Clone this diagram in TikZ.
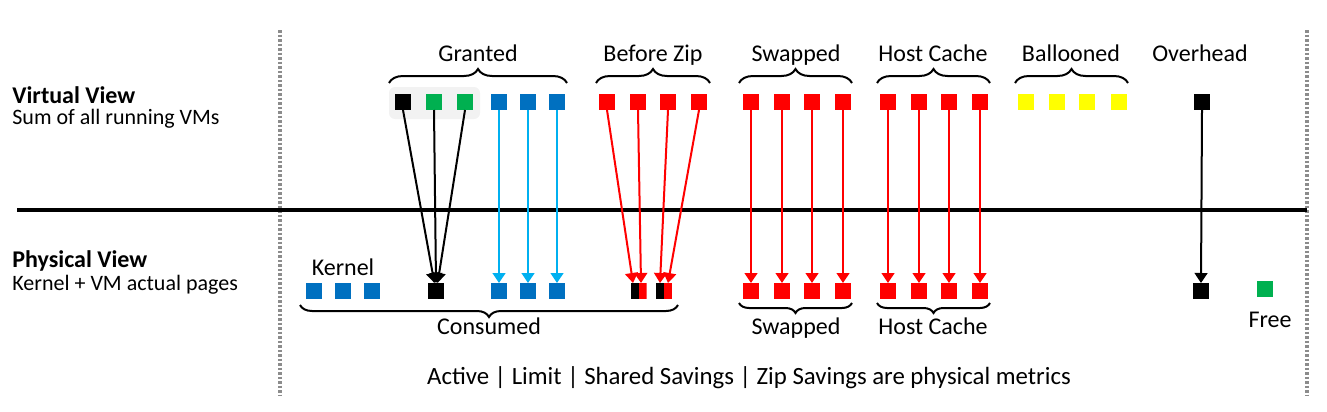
\documentclass[tikz,border=0pt]{standalone}
\usepackage{fontspec}
\setmainfont{Carlito}
\usetikzlibrary{arrows.meta,decorations.pathreplacing}
\definecolor{pagered}{RGB}{255,0,0}
\definecolor{pageblue}{RGB}{0,112,192}
\definecolor{arrowblue}{RGB}{0,176,240}
\definecolor{pagegreen}{RGB}{0,176,80}
\definecolor{pageyellow}{RGB}{255,255,0}
\definecolor{boxgray}{RGB}{242,242,242}
\definecolor{dotgray}{RGB}{140,140,140}

\tikzset{
  pg/.style={minimum size=8pt, inner sep=0pt, outer sep=0pt, fill=#1},
  splitpg/.style={minimum size=8pt, inner sep=0pt, outer sep=0pt,
    path picture={
      \fill[black] (path picture bounding box.south west) rectangle (path picture bounding box.north);
      \fill[pagered] (path picture bounding box.south) rectangle (path picture bounding box.north east);
    }},
  lbl/.style={font=\fontsize{12}{14}\selectfont, inner sep=0pt, anchor=base},
  arr/.style={line width=1pt, -{Triangle[width=6.4pt,length=5pt]}},
  brc/.style={decorate, decoration={brace, amplitude=#1}, line width=1pt},
  dotline/.style={dotgray, line width=1.6pt, dash pattern=on 1.25pt off 1pt}
}

\begin{document}
\begin{tikzpicture}[x=0.5pt, y=-0.5pt]
  \useasboundingbox (0,0) rectangle (1327,412);

  % Separators
  \draw[dotline] (280,30) -- (280,396);
  \draw[dotline] (1307,30) -- (1307,396);
  \draw[line width=2pt] (17,210) -- (1307,210);

  % View titles
  \node[font=\fontsize{12}{14}\selectfont\bfseries, inner sep=0pt, anchor=base west] (vv) at (12,103) {Virtual View};
  \node[font=\fontsize{11}{13}\selectfont, inner sep=0pt, anchor=base west] (vvsub) at (12,124) {Sum of all running VMs};
  \node[font=\fontsize{12}{14}\selectfont\bfseries, inner sep=0pt, anchor=base west] (pv) at (12,267) {Physical View};
  \node[font=\fontsize{11}{13}\selectfont, inner sep=0pt, anchor=base west] (pvsub) at (12,290) {Kernel + VM actual pages};

  % Virtual pages
  \fill[boxgray, rounded corners=3pt] (389,87) rectangle (480,119);
  \node[pg=black] (gk) at (403,102) {};
  \node[pg=pagegreen] (gg1) at (434,102) {};
  \node[pg=pagegreen] (gg2) at (465,102) {};
  \foreach \x [count=\i] in {499,528,557}
    \node[pg=pageblue] (gb\i) at (\x,102) {};
  \foreach \x [count=\i] in {607,638,668,699}
    \node[pg=pagered] (bz\i) at (\x,102) {};
  \foreach \x [count=\i] in {751,782,812,843}
    \node[pg=pagered] (sw\i) at (\x,102) {};
  \foreach \x [count=\i] in {888,919,949,980}
    \node[pg=pagered] (hc\i) at (\x,102) {};
  \foreach \x [count=\i] in {1026,1057,1087,1119}
    \node[pg=pageyellow] (bl\i) at (\x,102) {};
  \node[pg=black] (oh) at (1202,102) {};

  % Top braces and labels
  \draw[brc=7pt] (389,83) -- (567,83);
  \draw[brc=7pt] (596,83) -- (710,83);
  \draw[brc=7pt] (739,83) -- (852,83);
  \draw[brc=7pt] (877,83) -- (990,83);
  \draw[brc=7pt] (1015,83) -- (1128,83);
  \node[lbl] (lgranted) at (478,61) {Granted};
  \node[lbl] (lbefore) at (653,61) {Before Zip};
  \node[lbl] (lswap) at (796,61) {Swapped};
  \node[lbl] (lcache) at (933,61) {Host Cache};
  \node[lbl] (lballoon) at (1071,61) {Ballooned};
  \node[lbl] (loverhead) at (1200,61) {Overhead};

  % Physical pages
  \foreach \x [count=\i] in {314,343,372}
    \node[pg=pageblue] (k\i) at (\x,291) {};
  \node[pg=black] (cons) at (436,291) {};
  \foreach \x [count=\i] in {499,528,557}
    \node[pg=pageblue] (pb\i) at (\x,291) {};
  \node[splitpg] (sp1) at (638.5,291) {};
  \node[splitpg] (sp2) at (664,291) {};
  \foreach \x [count=\i] in {751,782,812,843}
    \node[pg=pagered] (psw\i) at (\x,291) {};
  \foreach \x [count=\i] in {888,919,949,980}
    \node[pg=pagered] (phc\i) at (\x,291) {};
  \node[pg=black] (poh) at (1201,291) {};
  \node[pg=pagegreen] (free) at (1265,289) {};

  % Bottom braces and labels
  \draw[brc=6pt] (678,305) -- (300,305);
  \draw[brc=5pt] (852,303) -- (739,303);
  \draw[brc=5pt] (990,303) -- (877,303);
  \node[lbl] (lkernel) at (343,275) {Kernel};
  \node[lbl] (lconsumed) at (489,334) {Consumed};
  \node[lbl] (lpswap) at (796,334) {Swapped};
  \node[lbl] (lpcache) at (933,334) {Host Cache};
  \node[lbl] (lfree) at (1270,327) {Free};
  \node[lbl, font=\fontsize{12.4}{14}\selectfont] (lnote) at (749,384)
    {Active | Limit | Shared Savings | Zip Savings are physical metrics};

  % Mappings
  \draw[arr] (gk.south) -- ([xshift=-0.8pt]cons.north);
  \draw[arr] (gg1.south) -- (cons.north);
  \draw[arr] (gg2.south) -- ([xshift=0.8pt]cons.north);
  \foreach \i in {1,2,3}
    \draw[arr, arrowblue] (gb\i.south) -- (pb\i.north);
  \draw[arr, pagered] (bz1.south) -- ([xshift=-2.75pt]sp1.north);
  \draw[arr, pagered] (bz2.south) -- ([xshift=1.25pt]sp1.north);
  \draw[arr, pagered] (bz3.south) -- ([xshift=-2pt]sp2.north);
  \draw[arr, pagered] (bz4.south) -- ([xshift=2pt]sp2.north);
  \foreach \i in {1,...,4}{
    \draw[arr, pagered] (sw\i.south) -- (psw\i.north);
    \draw[arr, pagered] (hc\i.south) -- (phc\i.north);
  }
  \draw[arr] (oh.south) -- (poh.north);
\end{tikzpicture}
\end{document}
